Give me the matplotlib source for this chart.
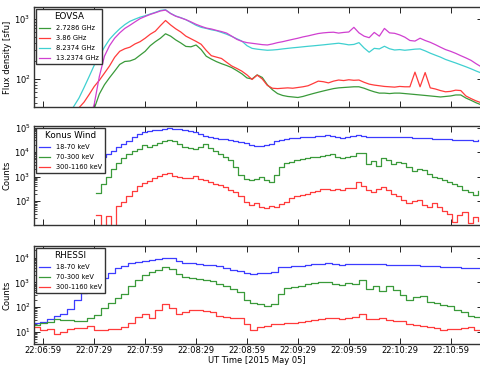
import numpy as np
import matplotlib
matplotlib.use('Agg')
import matplotlib.pyplot as plt
from matplotlib.ticker import FixedLocator, FuncFormatter, LogLocator, NullFormatter

# seconds after 22:06:59 UT
T_REF = 22 * 3600 + 6 * 60 + 59

# EOVSA flux density [sfu], 3 s cadence starting at t = 15 s
eovsa_start, eovsa_step = 15, 3
eovsa_2_7 = [20, 20, 20, 20, 20, 32, 56, 80, 105, 135, 175, 196, 200, 215, 250, 290, 360, 420, 480, 570,
             520, 450, 400, 350, 345, 370, 310, 240, 215, 195, 180, 168, 155, 138, 122, 104, 100, 117, 106, 80,
             66, 57, 53, 51, 50, 49, 51, 54, 57, 60, 63, 66, 69, 71, 72, 73, 74, 74, 70, 65,
             61, 58, 58, 57, 58, 58, 57, 56, 55, 54, 53, 52, 51, 50, 51, 52, 54, 54, 48, 44,
             40, 37]
eovsa_3_86 = [22, 27, 33, 41, 55, 75, 95, 125, 165, 230, 290, 320, 340, 385, 420, 480, 560, 630, 780, 950,
              800, 690, 610, 520, 470, 425, 380, 300, 245, 232, 220, 190, 165, 150, 135, 117, 98, 116, 100, 78,
              70, 69, 70, 71, 70, 72, 74, 77, 84, 92, 90, 86, 92, 96, 94, 97, 95, 96, 88, 82,
              79, 77, 75, 74, 73, 75, 74, 74, 130, 74, 128, 71, 68, 64, 61, 62, 65, 64, 52, 47,
              43, 40]
eovsa_8_24 = [25, 35, 48, 72, 110, 170, 240, 340, 460, 570, 690, 810, 920, 1000, 1080, 1140, 1220, 1300, 1400, 1440,
              1250, 1130, 1060, 980, 880, 790, 730, 700, 665, 640, 600, 560, 515, 470, 430, 360, 325, 315, 308, 302,
              305, 310, 318, 325, 332, 338, 345, 352, 358, 365, 372, 380, 388, 396, 385, 372, 378, 405, 330, 280,
              325, 318, 352, 320, 305, 310, 302, 308, 315, 318, 295, 270, 250, 232, 212, 198, 185, 172, 160, 148,
              136, 126]
eovsa_13_24 = [20, 20, 20, 20, 20, 38, 110, 240, 360, 480, 590, 700, 790, 900, 1020, 1110, 1200, 1280, 1370, 1420,
               1240, 1120, 1050, 980, 900, 820, 760, 710, 685, 650, 620, 585, 520, 460, 425, 405, 395, 385, 375, 370,
               385, 405, 420, 440, 460, 480, 505, 525, 550, 575, 590, 600, 605, 585, 600, 610, 730, 590, 520, 490,
               600, 520, 700, 590, 580, 545, 500, 440, 430, 480, 440, 410, 375, 340, 310, 290, 268, 245, 225, 205,
               180, 160]
eovsa_labels = ['2.7286 GHz', '3.86 GHz', '8.2374 GHz', '13.2374 GHz']

# Konus-Wind counts, 3 s cadence starting at t = 31 s
konus_start, konus_step = 31, 3
konus_18_70 = [4800, 6200, 8300, 11200, 15500, 21000, 29000, 40000, 52000, 65000, 74000, 78000, 81000, 89000, 95000,
               89000, 83000, 76000, 71000, 63000, 54000, 46000, 40000, 38000, 35500, 34000, 31600, 29500, 26300, 22400,
               19000, 17800, 17400, 18600, 21400, 27500, 32400, 35500, 37200, 38900, 40700, 41700, 42700, 43700, 45700,
               47900, 45700, 39800, 38000, 41700, 43700, 47900, 43700, 41700, 42700, 39800, 41700, 40700, 39800, 41700,
               39800, 40700, 38900, 38000, 37200, 36300, 35500, 34700, 33900, 33900, 32400, 31600, 31600, 30200, 29500,
               30200]
konus_70_300 = [224, 525, 1000, 2090, 3700, 5750, 8300, 11000, 13800, 19500, 15800, 20000, 24000, 28800, 32400,
                28200, 21900, 16600, 14800, 13800, 16600, 21400, 15100, 11000, 8500, 6600, 4800, 2500, 1120, 830,
                720, 790, 950, 720, 600, 1120, 2400, 3470, 4000, 4600, 5250, 5750, 6200, 6600, 7200,
                7900, 8300, 6600, 5750, 6300, 6900, 9500, 8900, 3200, 4400, 2600, 5500, 4600, 3300, 3800,
                3600, 2500, 1660, 2000, 1900, 1320, 1000, 890, 760, 630, 525, 400, 300, 230, 174,
                250]
konus_300_1160 = [27, 3, 24, 4, 63, 91, 158, 250, 420, 550, 690, 910, 1100, 1260, 1450,
                  1100, 950, 850, 890, 1020, 830, 740, 630, 525, 460, 380, 300, 240, 166, 89,
                  72, 83, 58, 52, 66, 58, 76, 89, 141, 158, 182, 200, 229, 263, 302,
                  316, 275, 302, 275, 331, 355, 630, 417, 275, 240, 302, 380, 282, 200, 158,
                  112, 83, 105, 110, 71, 60, 83, 56, 42, 30, 14.5, 28, 35.5, 13, 23,
                  16]

# RHESSI counts, 4 s bins starting at t = -6 s
rhessi_start, rhessi_step = -6, 4
rhessi_18_70 = [23, 25, 32, 42, 55, 83, 200, 370, 525, 890, 1510, 2400, 3800, 4800, 6000, 6600, 7400, 7900, 8700, 10000,
                9500, 7100, 6300, 5900, 5600, 5100, 4900, 4600, 4000, 3300, 2800, 2400, 2200, 2340, 2400, 2750, 4100, 4400,
                4600, 4800, 5100, 5400, 5750, 5900, 5750, 5250, 5500, 5400, 5600, 5500, 5400, 5500, 5250, 5100, 5100, 5000,
                4900, 4800, 4600, 4450, 4250, 4150, 4050, 4000, 4000, 3900, 3900]
rhessi_70_300 = [19.5, 23, 26, 32, 30, 29.5, 28, 27.5, 35, 50, 89, 150, 224, 355, 710, 1260, 2000, 2700, 3300, 4100,
                 3550, 2100, 1660, 1450, 1320, 1260, 1150, 890, 720, 560, 420, 195, 150, 140, 110, 140, 355, 575,
                 660, 710, 830, 950, 1000, 1050, 890, 780, 950, 830, 1230, 525, 710, 470, 710, 490, 310, 190,
                 255, 275, 162, 141, 126, 112, 79, 63, 45, 40, 38]
rhessi_300_1160 = [16, 11.5, 13.5, 8.5, 9.8, 13.5, 14.8, 13.8, 18, 12.3, 12.3, 12.6, 13.2, 16, 23, 40, 55, 38, 74, 132,
                   95, 55, 63, 74, 74, 71, 63, 43, 40, 38, 35, 21, 12.3, 16, 18, 20, 21, 22,
                   23, 25, 27.5, 29.5, 32, 35.5, 38, 33, 36, 40, 55, 32, 33, 35, 29.5, 28, 27.5, 20,
                   19, 16.6, 16, 14, 12.3, 12.6, 13.5, 14, 16, 11.5, 16]
energy_labels = ['18-70 keV', '70-300 keV', '300-1160 keV']

xtick_seconds = [0, 30, 60, 90, 120, 150, 180, 210, 240]


def times(start, step, values):
    return start + step * np.arange(len(values))


def ut_label(sec, pos=None):
    s = int(round(T_REF + sec))
    return '%02d:%02d:%02d' % (s // 3600, (s % 3600) // 60, s % 60)


def style_axis(ax, ylim, decades):
    ax.set_yscale('log')
    ax.set_ylim(*ylim)
    ax.set_xlim(-5.5, 259.1)
    ax.xaxis.set_major_locator(FixedLocator(xtick_seconds))
    ax.yaxis.set_major_locator(FixedLocator([10.0 ** d for d in decades]))
    ax.yaxis.set_minor_locator(LogLocator(base=10, subs=np.arange(2, 10)))
    ax.yaxis.set_minor_formatter(NullFormatter())
    ax.tick_params(which='both', direction='in', top=True, right=True, labelsize=6, pad=2.5)
    ax.tick_params(axis='x', pad=1.5)
    ax.tick_params(which='major', length=4, width=0.6)
    ax.tick_params(which='minor', length=2, width=0.5)
    for sp in ax.spines.values():
        sp.set_linewidth(1.0)
        sp.set_color('#333333')


def add_legend(ax, title):
    leg = ax.legend(loc='upper left', title=title, fontsize=4.8, title_fontsize=6.3,
                    fancybox=False, edgecolor='#333333', framealpha=1,
                    handlelength=1.6, handletextpad=0.9, borderpad=0.45, labelspacing=0.6,
                    borderaxespad=0.3)
    leg.get_frame().set_linewidth(1.0)


fig = plt.figure(figsize=(4.81, 3.66), dpi=100)
ax1 = fig.add_axes([0.0707, 0.7077, 0.9335, 0.2733])
ax2 = fig.add_axes([0.0707, 0.3844, 0.9335, 0.2713], sharex=ax1)
ax3 = fig.add_axes([0.0707, 0.0600, 0.9335, 0.2679], sharex=ax1)

lw = 0.9
eovsa_colors = ['#3a9a3a', '#ff3b3b', '#3fd0d0', '#d040d0']
for vals, col, lab in zip([eovsa_2_7, eovsa_3_86, eovsa_8_24, eovsa_13_24], eovsa_colors, eovsa_labels):
    ax1.plot(times(eovsa_start, eovsa_step, vals), vals, color=col, lw=lw, label=lab)
style_axis(ax1, (34, 1600), [2, 3])
ax1.set_ylabel('Flux density [sfu]', fontsize=6, labelpad=2)
add_legend(ax1, 'EOVSA')

energy_colors = ['#3c3cff', '#3a9a3a', '#ff3b3b']
for vals, col, lab in zip([konus_18_70, konus_70_300, konus_300_1160], energy_colors, energy_labels):
    ax2.plot(times(konus_start, konus_step, vals), vals, color=col, lw=lw, label=lab,
             drawstyle='steps-post')
style_axis(ax2, (10.5, 1.15e5), [2, 3, 4, 5])
ax2.set_ylabel('Counts', fontsize=6, labelpad=2)
add_legend(ax2, 'Konus Wind')

for vals, col, lab in zip([rhessi_18_70, rhessi_70_300, rhessi_300_1160], energy_colors, energy_labels):
    ax3.step(times(rhessi_start, rhessi_step, vals), vals, where='post', color=col, lw=lw, label=lab)
style_axis(ax3, (3.2, 3.0e4), [1, 2, 3, 4])
ax3.set_ylabel('Counts', fontsize=6, labelpad=2)
add_legend(ax3, 'RHESSI')

ax1.tick_params(labelbottom=False)
ax2.tick_params(labelbottom=False)
ax3.xaxis.set_major_formatter(FuncFormatter(ut_label))
fig.text(0.534, 0.003, 'UT Time [2015 May 05]', fontsize=6, ha='center', va='bottom')

fig.savefig('out.png', dpi=100)
